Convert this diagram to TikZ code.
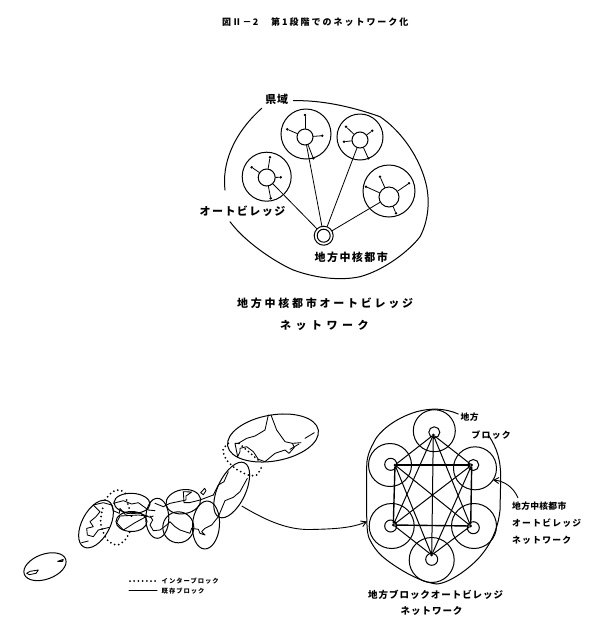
\documentclass[tikz,border=0pt]{standalone}
\usepackage{fontspec}
\usetikzlibrary{shapes.geometric,arrows.meta}
\setmainfont{Noto Sans CJK JP}
\newcommand\jt[2]{\fontsize{#1}{#1}\selectfont\bfseries\addfontfeature{LetterSpace=#2}}
\tikzset{
  ln/.style={line width=1pt,line join=round,line cap=round},
  thin line/.style={line width=0.8pt,line join=round,line cap=round},
  ring/.style={circle,draw,line width=1pt,inner sep=0pt},
  tip/.style={circle,fill,inner sep=0pt,minimum size=2.8pt},
  hub/.style={circle,fill,inner sep=0pt,minimum size=3pt},
  oval/.style={ellipse,draw,line width=1pt,inner sep=0pt},
  dotline/.style={line width=2pt,line cap=round,dash pattern=on 0pt off 4.2pt},
  coast/.style={line width=0.85pt,line join=round,line cap=round},
  lab/.style={inner sep=0pt,anchor=west},
  big/.style={font=\jt{11}{13}},
  kanjismall/.style={font=\jt{8.8}{3}},
  kanasmall/.style={font=\jt{8.8}{14}},
  mini/.style={font=\jt{6.3}{16}},
  arrowline/.style={line width=0.9pt,-{Straight Barb[length=5pt,width=6pt]}}
}
\begin{document}
\begin{tikzpicture}[x=1pt,y=-1pt]
\useasboundingbox (0,0) rectangle (600,633);
% title
\node[lab,font=\jt{9}{14}] (ttlA) at (222,22) {図Ⅱ－2};
\node[lab,font=\jt{9}{22}] (ttlB) at (271,22) {第1段階でのネットワーク化};
% upper diagram: prefecture
\draw[ln] (293.3,100.7) .. controls (320,100) and (350,106) .. (380,116.7)
  .. controls (400,130) and (418,155) .. (425,180)
  .. controls (431,200) and (428,222) .. (420,236.7)
  .. controls (410,250) and (385,270) .. (360,276.7)
  .. controls (340,281) and (315,278) .. (293.3,270)
  .. controls (275,262) and (245,242) .. (230,221.7);
\draw[ln] (225,190) .. controls (222,165) and (232,135) .. (261.7,108.3);
\node[ring,minimum size=49pt] (v1) at (266.7,176.7) {};
\node[ring,minimum size=50pt] (v2) at (306,134) {};
\node[ring,minimum size=46pt] (v3) at (360,137) {};
\node[ring,minimum size=52pt] (v4) at (389,191) {};
\node[ring,minimum size=17pt,fill=white] (c1) at (266.7,177.5) {};
\node[ring,minimum size=16pt,fill=white] (c2) at (305,137) {};
\node[ring,minimum size=16pt,fill=white] (c3) at (360,140) {};
\node[ring,minimum size=20pt,fill=white] (c4) at (389,197) {};
\node[ring,minimum size=19pt] (core) at (323.7,235.7) {};
\node[ring,minimum size=13pt] at (core) {};
\foreach \n/\hubname/\p in {
 a/c1/{270,157.3}, b/c1/{251.7,167.3}, c/c1/{280.7,177.3}, d/c1/{270.7,198.3},
 e/c2/{305,115}, f/c2/{287.3,129.3}, g/c2/{322.3,135.7}, h/c2/{313.3,158.3},
 i/c3/{346,126.7}, j/c3/{372.3,130.7}, k/c3/{344,141.7}, l/c3/{368.3,158.3},
 m/c4/{380,176.7}, n/c4/{366,186.7}, o/c4/{409,183.3}, p/c4/{396,213.3}}{
  \node[tip] (t\n) at (\p) {};
  \draw[thin line] (\hubname) -- (t\n);
}
\foreach \hubname in {c1,c2,c3,c4}{\draw[thin line] (\hubname) -- (core);}
\node[inner sep=0pt,font=\jt{11}{6}] (kenlabel) at (276.7,99.3) {県域};
\node[lab,big] (avlabel) at (199.5,211.7) {オートビレッジ};
\node[lab,big] (corelabel) at (314.5,257.3) {地方中核都市};
\node[lab,font=\jt{11}{25}] (capA) at (237,303) {地方中核都市オートビレッジ};
\node[lab,font=\jt{11}{41}] (capB) at (280,325) {ネットワーク};
% map
\node[oval,minimum width=92pt,minimum height=46pt,rotate=10] (hokkaido) at (273,438) {};
\node[oval,minimum width=28pt,minimum height=60pt,rotate=-25] (tohoku) at (231.7,490) {};
\node[oval,minimum width=27pt,minimum height=48pt,rotate=-4] (kanto) at (206,525) {};
\node[oval,minimum width=35pt,minimum height=24pt,rotate=10] (chubu) at (183.3,501.7) {};
\node[oval,minimum width=31pt,minimum height=31pt] (tokai) at (178.3,527.3) {};
\node[oval,minimum width=23pt,minimum height=40pt] (kinki) at (157.3,518.3) {};
\node[oval,minimum width=36pt,minimum height=20pt,rotate=-3] (sanin) at (132,503.3) {};
\node[oval,minimum width=31pt,minimum height=20pt] (sanyo) at (131.5,521.5) {};
\node[oval,minimum width=28pt,minimum height=52pt,rotate=-28] (kyushu) at (96,524) {};
\node[oval,minimum width=44pt,minimum height=25pt,rotate=20] (okinawa) at (45,566.7) {};
% Hokkaido and the inter-block arc round it
\begin{scope}[shift={(215,410)},x=0.33333pt,y=-0.33333pt]
 \draw[dotline] plot[smooth] coordinates {(40,100)(24,120)(35,150)(65,178)(100,195)(125,195)(140,170)};
 \draw[dotline] (72,100) -- (135,155);
 \draw[coast] (160,15) -- (150,60) -- (120,78) -- (95,85) -- (70,100) -- (60,100) -- (68,140) -- (75,125) -- (75,115) -- (95,110) -- (115,125) -- (130,148) -- (150,155) -- (180,130) -- (210,120) -- (222,130) -- (238,112) -- (232,100);
 \draw[coast] (168,15) -- (185,60) -- (210,95) -- (232,100) -- (258,98);
 \draw[coast] (225,118) -- (252,102);
 \draw[coast] (270,85) -- (298,68);
\end{scope}
% Kyushu, Chugoku, Shikoku
\begin{scope}[shift={(70,480)},x=0.33333pt,y=-0.33333pt]
 \draw[dotline] plot[smooth] coordinates {(105,60)(128,35)(150,30)(172,45)};
 \draw[dotline] plot[smooth] coordinates {(98,85)(92,130)(110,178)(140,195)(165,180)(182,150)};
 \draw[dotline] (170,60) -- (185,110);
 \draw[coast] (70,75) -- (90,95) -- (78,110) -- (60,125) -- (70,140) -- (50,145) -- (52,165) -- (70,170) -- (85,150) -- (118,142);
 \draw[coast] (70,75) -- (100,68) -- (125,75) -- (130,92) -- (148,100) -- (150,85) -- (165,103) -- (190,97) -- (210,100) -- (240,112) -- (250,108);
 \draw[coast] (130,70) -- (160,62) -- (185,72) -- (205,68) -- (235,90) -- (255,92);
 \draw[coast] (150,108) -- (140,128) -- (160,150) -- (195,128) -- (232,108) -- (205,105) -- cycle;
 \draw[coast] (35,188) -- (55,183);
\end{scope}
% central Honshu
\begin{scope}[shift={(150,470)},x=0.33333pt,y=-0.33333pt]
 \draw[coast] (205,140) -- (225,92) -- (250,82) -- (270,65) -- (292,25);
 \draw[coast] (205,140) -- (185,165) -- (165,175) -- (155,185) -- (165,195) -- (150,190) -- (145,178) -- (125,175) -- (120,190) -- (105,185) -- (90,180) -- (75,170) -- (60,155) -- (50,165) -- (30,180) -- (10,182) -- (0,165) -- (8,150) -- (0,138);
 \draw[coast] (190,75) -- (150,90) -- (118,98) -- (102,98) -- (100,65) -- (125,66) -- (108,78) -- (108,90) -- (60,100) -- (40,110) -- (15,100);
 \draw[coast] (152,68) -- (164,55) -- (168,62) -- (160,74) -- cycle;
 \draw[coast] (190,75) -- (205,45) -- (222,35) -- (235,5);
\end{scope}
% Okinawa islands
\begin{scope}[shift={(10,400)},x=0.33333pt,y=-0.33333pt]
 \draw[coast] (50,520) -- (60,514) -- (85,510) -- (78,520) -- (58,524) -- cycle;
 \draw[coast] (143,484) -- (160,478) -- (158,484) -- cycle;
\end{scope}
% legend
\coordinate (legA) at (130,581); \coordinate (legB) at (157,581);
\coordinate (legC) at (129,590.7); \coordinate (legD) at (157,590.7);
\draw[dotline] (legA) -- (legB);
\draw[ln] (legC) -- (legD);
\node[lab,mini] (legtxtA) at (161.5,581) {インターブロック};
\node[lab,mini] (legtxtB) at (161.5,591) {既存ブロック};
% right diagram hull
\draw[ln] (458.3,414) .. controls (445,408) and (430,408) .. (416.7,411.7)
  .. controls (395,418) and (378,432) .. (373.3,443.3)
  .. controls (368,453) and (366.7,460) .. (366.7,466.7)
  -- (366.7,510)
  .. controls (366.7,525) and (367,535) .. (370,540)
  .. controls (376,552) and (383,557) .. (386.7,560)
  .. controls (400,570) and (420,582) .. (436.7,584)
  .. controls (450,583) and (470,568) .. (480,556.7)
  .. controls (490,545) and (498,530) .. (500,510)
  -- (500.7,480) .. controls (501,460) and (497,448) .. (488.3,435);
\node[ring,minimum size=42pt] (b1) at (434.3,430.7) {};
\node[ring,minimum size=43pt] (b2) at (390,465) {};
\node[ring,minimum size=43pt] (b3) at (475,468.3) {};
\node[ring,minimum size=45pt] (b4) at (391.7,526) {};
\node[ring,minimum size=45pt] (b5) at (474,526) {};
\node[ring,minimum size=45pt] (b6) at (431.7,560) {};
\node[ring,minimum size=11pt] (r1) at (434.3,432.3) {};
\node[ring,minimum size=12pt] (r2) at (390.7,464.3) {};
\node[ring,minimum size=11pt] (r3) at (473.3,465) {};
\node[ring,minimum size=12pt] (r4) at (390.7,526) {};
\node[ring,minimum size=12pt] (r5) at (473.3,527.7) {};
\node[ring,minimum size=12pt] (r6) at (431.7,559.3) {};
\node[hub] (h1) at (433.3,435) {};
\node[hub] (h2) at (395,465) {};
\node[hub] (h3) at (471.7,465) {};
\node[hub] (h4) at (393.3,525) {};
\node[hub] (h5) at (470.7,526) {};
\node[hub] (h6) at (431.7,555) {};
\foreach \a/\b in {h1/h2,h1/h3,h1/h4,h1/h5,h1/h6,h2/h5,h2/h6,h3/h4,h3/h6,h4/h6,h5/h6}{\draw[ln] (\a) -- (\b);}
\foreach \a/\b in {h2/h3,h2/h4,h3/h5,h4/h5}{\draw[line width=1.4pt] (\a) -- (\b);}
% connectors with arrows
\coordinate (jpStart) at (241.7,506);
\coordinate (jpEnd) at (367,521.5);
\draw[arrowline] (jpStart) .. controls (262,518) and (285,530) .. (310,529.5) .. controls (335,529) and (352,528) .. (jpEnd);
\node[lab,kanjismall] (chihoA) at (460.5,417) {地方};
\node[lab,kanasmall] (chihoB) at (471.5,435) {ブロック};
\node[lab,kanjismall] (netA) at (512,506) {地方中核都市};
\node[lab,kanasmall] (netB) at (512,522.7) {オートビレッジ};
\node[lab,kanasmall] (netC) at (512,540) {ネットワーク};
\coordinate (netArrowStart) at (518,498);
\coordinate (netArrowEnd) at (493,480);
\draw[arrowline] (netArrowStart) .. controls (514,488) and (505,481) .. (netArrowEnd);
\node[lab,font=\jt{9.5}{10}] (capC) at (368,594.5) {地方ブロックオートビレッジ};
\node[lab,font=\jt{9.5}{10}] (capD) at (400.5,611) {ネットワーク};
\end{tikzpicture}
\end{document}
